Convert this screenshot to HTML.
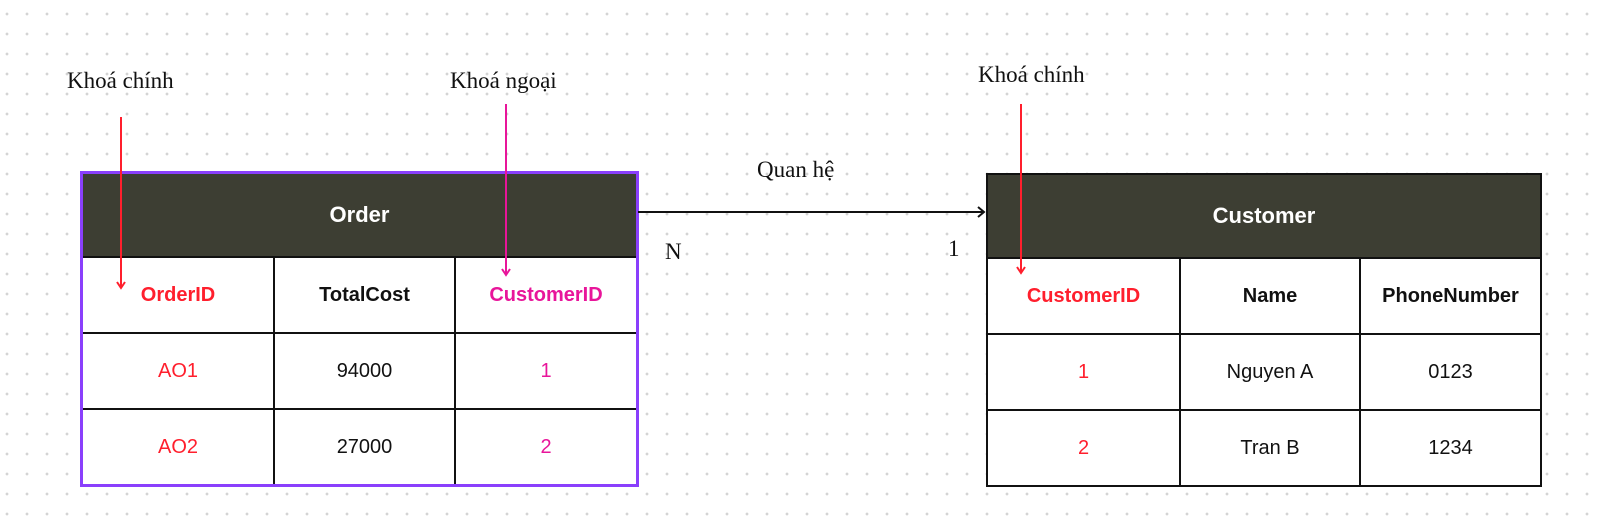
<!DOCTYPE html>
<html><head><meta charset="utf-8"><style>
body{margin:0;width:1600px;height:527px;overflow:hidden;background:#fff;
background-image:radial-gradient(circle,#d4d4d4 1.2px,transparent 1.6px);background-size:20px 20px;background-position:-3px 4px;position:relative;font-family:"Liberation Sans",sans-serif}
.lbl{position:absolute;font-family:"Liberation Serif",serif;font-size:23px;color:#111;white-space:nowrap}
table{position:absolute;border-collapse:collapse;background:#fff}
td{border:2px solid #111;text-align:center;font-size:20px;color:#111;padding:0}
th{background:#3d3e33;color:#fff;font-size:22px;font-weight:bold;height:80px;border:2px solid #111}
.h td{font-weight:bold}
.r{color:#ff1f2d}.p{color:#e8159a}
</style></head><body>
<div class="lbl" style="left:67px;top:68px">Khoá chính</div>
<div class="lbl" style="left:450px;top:68px">Khoá ngoại</div>
<div class="lbl" style="left:978px;top:62px">Khoá chính</div>
<div class="lbl" style="left:757px;top:157px">Quan hệ</div>
<div class="lbl" style="left:665px;top:239px">N</div>
<div class="lbl" style="left:948px;top:236px">1</div>

<table style="left:81px;top:172px;width:557px;outline:3px solid #8a3ffc;outline-offset:-2px">
<tr><th colspan="3">Order</th></tr>
<tr class="h" style="height:76px"><td class="r" style="width:190px">OrderID</td><td style="width:179px">TotalCost</td><td class="p">CustomerID</td></tr>
<tr style="height:76px"><td class="r">AO1</td><td>94000</td><td class="p">1</td></tr>
<tr style="height:76px"><td class="r">AO2</td><td>27000</td><td class="p">2</td></tr>
</table>

<table style="left:986px;top:173px;width:556px">
<tr><th colspan="3">Customer</th></tr>
<tr class="h" style="height:76px"><td class="r" style="width:191px">CustomerID</td><td style="width:178px">Name</td><td>PhoneNumber</td></tr>
<tr style="height:76px"><td class="r">1</td><td>Nguyen A</td><td>0123</td></tr>
<tr style="height:76px"><td class="r">2</td><td>Tran B</td><td>1234</td></tr>
</table>

<svg width="1600" height="527" style="position:absolute;left:0;top:0">
<g fill="none" stroke-width="2">
<line x1="638" y1="212" x2="984" y2="212" stroke="#111"/>
<polyline points="978,207 984,212 978,217" stroke="#111"/>
<line x1="121" y1="117" x2="121" y2="288" stroke="#ff1f2d"/>
<polyline points="117,282 121,288 125,282" stroke="#ff1f2d"/>
<line x1="506" y1="104" x2="506" y2="275" stroke="#e8159a"/>
<polyline points="502,269 506,275 510,269" stroke="#e8159a"/>
<line x1="1021" y1="104" x2="1021" y2="273" stroke="#ff1f2d"/>
<polyline points="1017,267 1021,273 1025,267" stroke="#ff1f2d"/>
</g></svg>
</body></html>
